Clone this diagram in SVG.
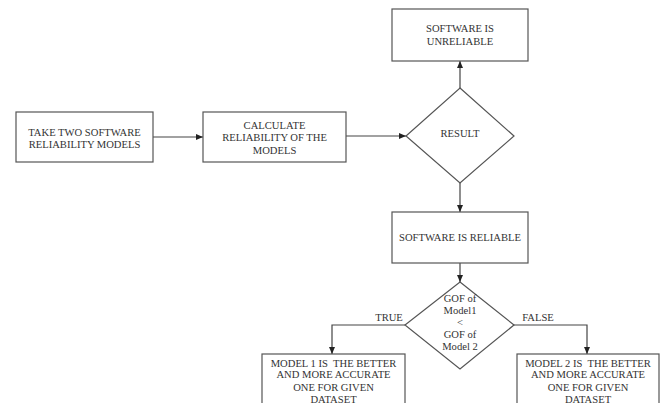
<svg xmlns="http://www.w3.org/2000/svg" width="662" height="403" viewBox="0 0 662 403">
<style>
.box{fill:#fff;stroke:#555;stroke-width:1.2}
.t{font-family:"Liberation Serif","Times New Roman",serif;font-size:10.6px;fill:#333;text-anchor:middle;white-space:pre}
.c{fill:none;stroke:#444;stroke-width:1.2}
</style>
<defs>
<marker id="ah" markerWidth="7" markerHeight="6" refX="7" refY="3" orient="auto" markerUnits="userSpaceOnUse">
<path d="M0,0 L7,3 L0,6 Z" fill="#222"/>
</marker>
</defs>
<rect width="662" height="403" fill="#fff"/>
<g id="connectors">
<line class="c" x1="153" y1="137" x2="203" y2="137" marker-end="url(#ah)"/>
<line class="c" x1="346" y1="136" x2="406" y2="136" marker-end="url(#ah)"/>
<line class="c" x1="460" y1="88" x2="460" y2="61" marker-end="url(#ah)"/>
<line class="c" x1="460" y1="183" x2="460" y2="212" marker-end="url(#ah)"/>
<line class="c" x1="460" y1="263" x2="460" y2="282" marker-end="url(#ah)"/>
<polyline class="c" points="405,325 332,325 332,354" marker-end="url(#ah)"/>
<polyline class="c" points="514,325 587,325 587,354" marker-end="url(#ah)"/>
<text class="t" x="389" y="321">TRUE</text>
<text class="t" x="538" y="321">FALSE</text>
</g>
<g id="take">
<rect class="box" x="16" y="112" width="137" height="50"/>
<text class="t" x="84.5" y="135.5">TAKE TWO SOFTWARE</text>
<text class="t" x="84.5" y="147.5">RELIABILITY MODELS</text>
</g>
<g id="calculate">
<rect class="box" x="203" y="112" width="143" height="50"/>
<text class="t" x="274.5" y="128.5">CALCULATE</text>
<text class="t" x="274.5" y="141">RELIABILITY OF THE</text>
<text class="t" x="274.5" y="153.5">MODELS</text>
</g>
<g id="result">
<polygon class="box" points="460,88 514,136 460,183 406,136"/>
<text class="t" x="460" y="137">RESULT</text>
</g>
<g id="unreliable">
<rect class="box" x="392" y="9" width="136" height="52"/>
<text class="t" x="460" y="31.5">SOFTWARE IS</text>
<text class="t" x="460" y="44.5">UNRELIABLE</text>
</g>
<g id="reliable">
<rect class="box" x="392" y="212" width="136" height="51"/>
<text class="t" x="460" y="241">SOFTWARE IS RELIABLE</text>
</g>
<g id="gof">
<polygon class="box" points="460,282 514,325 460,369 405,325"/>
<text class="t" x="460" y="301.5">GOF of</text>
<text class="t" x="460" y="313.5">Model1</text>
<text class="t" x="460" y="325.5">&lt;</text>
<text class="t" x="460" y="337.5">GOF of</text>
<text class="t" x="460" y="349.5">Model 2</text>
</g>
<g id="model1">
<rect class="box" x="262" y="354" width="143" height="60"/>
<text class="t" x="333.5" y="366.5">MODEL 1 IS  THE BETTER</text>
<text class="t" x="333.5" y="378">AND MORE ACCURATE</text>
<text class="t" x="333.5" y="390.5">ONE FOR GIVEN</text>
<text class="t" x="333.5" y="402.5">DATASET</text>
</g>
<g id="model2">
<rect class="box" x="517" y="354" width="142" height="60"/>
<text class="t" x="588" y="366.5">MODEL 2 IS  THE BETTER</text>
<text class="t" x="588" y="378">AND MORE ACCURATE</text>
<text class="t" x="588" y="390.5">ONE FOR GIVEN</text>
<text class="t" x="588" y="402.5">DATASET</text>
</g>
</svg>
